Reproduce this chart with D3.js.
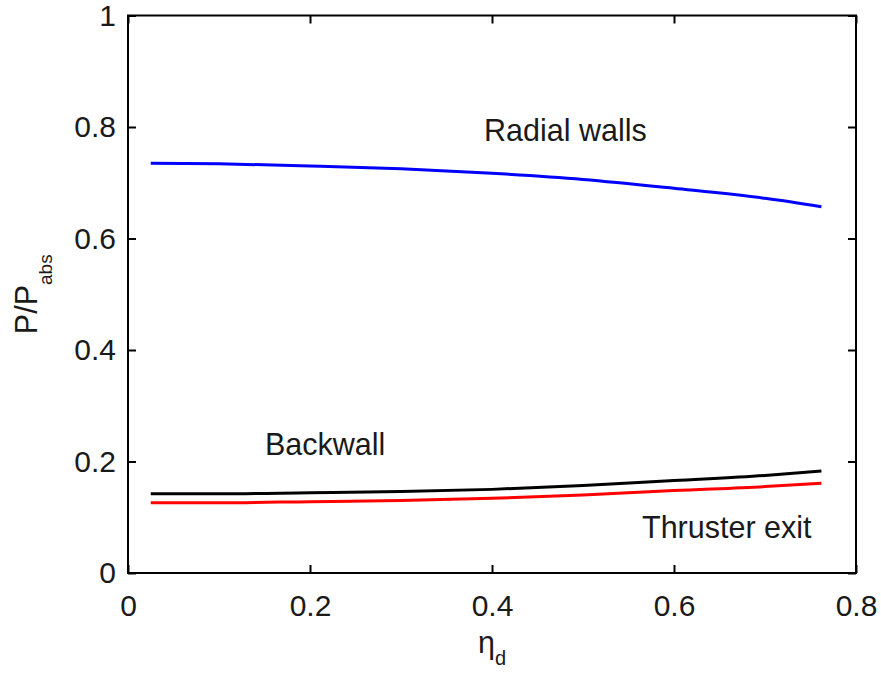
<!DOCTYPE html>
<html>
<head>
<meta charset="utf-8">
<script src="https://cdn.jsdelivr.net/npm/d3@7"></script>
<style>
  html, body { margin: 0; padding: 0; background: #fff; }
  svg { display: block; }
  text { font-family: "Liberation Sans", Arial, sans-serif; fill: #1a1a1a; }
</style>
</head>
<body>
<svg id="chart" width="881" height="675"></svg>
<script>
// Data
const etaD = [0.025, 0.1, 0.2, 0.3, 0.4, 0.5, 0.6, 0.7, 0.762];
const radialWalls = [0.735, 0.734, 0.730, 0.725, 0.717, 0.706, 0.690, 0.672, 0.657];
const backwall = [0.142, 0.142, 0.144, 0.146, 0.150, 0.157, 0.166, 0.175, 0.183];
const thrusterExit = [0.126, 0.126, 0.128, 0.130, 0.134, 0.140, 0.148, 0.155, 0.161];
const xTicks = [0, 0.2, 0.4, 0.6, 0.8];
const yTicks = [0, 0.2, 0.4, 0.6, 0.8, 1];
const seriesNames = ["Radial walls", "Backwall", "Thruster exit"];
const seriesColors = ["#0000ff", "#000000", "#ff0000"];

const svg = d3.select("#chart");
const L = 128, R = 856, T = 15.5, B = 573;
const x = d3.scaleLinear().domain([0, 0.8]).range([L, R]);
const y = d3.scaleLinear().domain([0, 1]).range([B, T]);

const fmt = d => String(d);
const tickLen = 8;
const fs = 30;
const lfs = 30.5;

// Lines
const line = d3.line().curve(d3.curveMonotoneX).x((d, i) => x(etaD[i])).y(d => y(d));
const seriesData = [radialWalls, backwall, thrusterExit];
seriesData.forEach((s, k) => {
  svg.append("path").datum(s)
    .attr("d", line)
    .attr("fill", "none")
    .attr("stroke", seriesColors[k])
    .attr("stroke-width", 3)
    .attr("stroke-linejoin", "round");
});

// Axes (ticks inward)
const axB = d3.axisBottom(x).tickValues(xTicks).tickSizeInner(-tickLen).tickSizeOuter(0).tickPadding(22).tickFormat(fmt);
const axT = d3.axisTop(x).tickValues(xTicks).tickSizeInner(-tickLen).tickSizeOuter(0).tickFormat("");
const axL = d3.axisLeft(y).tickValues(yTicks).tickSizeInner(-tickLen).tickSizeOuter(0).tickPadding(12).tickFormat(fmt);
const axR = d3.axisRight(y).tickValues(yTicks).tickSizeInner(-tickLen).tickSizeOuter(0).tickFormat("");

function style(g) {
  g.select(".domain").remove();
  g.selectAll(".tick line").attr("stroke", "#000").attr("stroke-width", 2);
  g.selectAll(".tick text").attr("font-size", fs).attr("fill", "#1a1a1a")
    .attr("font-family", "'Liberation Sans', Arial, sans-serif");
}
svg.append("g").attr("transform", `translate(0,${B})`).call(axB).call(style);
svg.append("g").attr("transform", `translate(0,${T})`).call(axT).call(style);
svg.append("g").attr("transform", `translate(${L},0)`).call(axL).call(style);
svg.append("g").attr("transform", `translate(${R},0)`).call(axR).call(style);

// Frame
svg.append("rect").attr("x", L).attr("y", T).attr("width", R - L).attr("height", B - T)
  .attr("fill", "none").attr("stroke", "#000").attr("stroke-width", 2);

// Series labels
const labelPos = [[484, 141], [265, 455], [642, 538]];
seriesNames.forEach((n, k) => {
  svg.append("text").attr("x", labelPos[k][0]).attr("y", labelPos[k][1])
    .attr("font-size", lfs).text(n);
});

// X axis title: η_d
const xt = svg.append("text").attr("x", (L + R) / 2).attr("y", 653).attr("text-anchor", "middle").attr("font-size", lfs);
xt.append("tspan").text("η");
xt.append("tspan").attr("font-size", 20).attr("dy", 12).text("d");

// Y axis title: P/P_abs
const yt = svg.append("text").attr("transform", `translate(37,${(T + B) / 2}) rotate(-90)`)
  .attr("text-anchor", "middle").attr("font-size", lfs);
yt.append("tspan").text("P/P");
yt.append("tspan").attr("font-size", 19).attr("dy", 15).text("abs");
</script>
</body>
</html>
